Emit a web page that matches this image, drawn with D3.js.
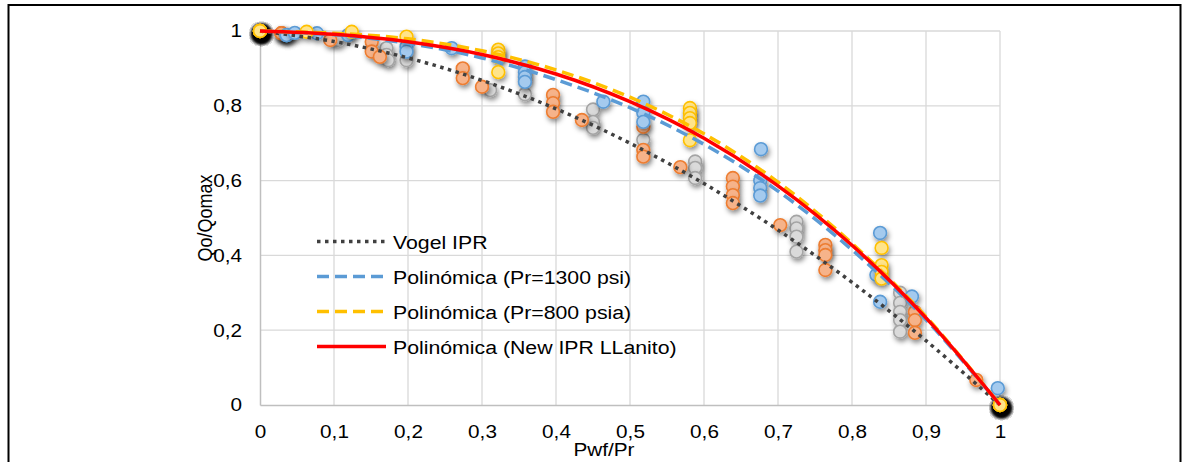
<!DOCTYPE html>
<html>
<head>
<meta charset="utf-8">
<script src="https://cdn.jsdelivr.net/npm/d3@7"></script>
<style>
  body { margin: 0; background: #fff; }
  text { font-family: "Liberation Sans", Arial, sans-serif; fill: #000; }
</style>
</head>
<body>
<svg id="chart" width="1183" height="462"></svg>
<script>
// Axis ticks and labels (decimal comma)
const xTicks = [0, 0.1, 0.2, 0.3, 0.4, 0.5, 0.6, 0.7, 0.8, 0.9, 1];
const xTickLabels = ["0", "0,1", "0,2", "0,3", "0,4", "0,5", "0,6", "0,7", "0,8", "0,9", "1"];
const yTicks = [0, 0.2, 0.4, 0.6, 0.8, 1];
const yTickLabels = ["0", "0,2", "0,4", "0,6", "0,8", "1"];

// Measured points, Pwf/Pr vs Qo/Qomax, one pair of arrays per data set
// (repeated values are tests that landed on the same point)
const blueX = [0, 0, 0, 0, 0, 0, 0, 0, 0.036, 0.036, 0.036, 0.047, 0.077, 0.119, 0.198, 0.198, 0.259, 0.358, 0.358, 0.358, 0.358, 0.464, 0.518, 0.518, 0.518, 0.677, 0.676, 0.676, 0.676, 0.838, 0.833, 0.838, 0.881, 0.997, 1, 1, 1, 1, 1, 1, 1, 1];
const blueY = [1, 1, 1, 1, 1, 1, 1, 1, 0.989, 0.989, 0.989, 0.995, 0.994, 0.989, 0.958, 0.945, 0.954, 0.905, 0.89, 0.877, 0.864, 0.811, 0.811, 0.781, 0.757, 0.684, 0.6, 0.58, 0.56, 0.46, 0.348, 0.276, 0.29, 0.045, 0, 0, 0, 0, 0, 0, 0, 0];

const orangeX = [0, 0, 0, 0, 0, 0, 0, 0, 0.029, 0.029, 0.029, 0.095, 0.151, 0.151, 0.162, 0.274, 0.274, 0.3, 0.396, 0.396, 0.396, 0.435, 0.518, 0.518, 0.518, 0.568, 0.639, 0.639, 0.639, 0.639, 0.703, 0.764, 0.764, 0.764, 0.764, 0.885, 0.885, 0.885, 0.968, 1, 1, 1, 1, 1, 1, 1, 1];
const orangeY = [1, 1, 1, 1, 1, 1, 1, 1, 0.994, 0.994, 0.994, 0.976, 0.971, 0.945, 0.931, 0.9, 0.874, 0.851, 0.829, 0.807, 0.784, 0.762, 0.744, 0.682, 0.664, 0.636, 0.607, 0.584, 0.561, 0.54, 0.481, 0.428, 0.414, 0.401, 0.361, 0.249, 0.227, 0.193, 0.067, 0, 0, 0, 0, 0, 0, 0, 0];

const grayX = [0, 0, 0, 0, 0, 0, 0, 0, 0.105, 0.171, 0.171, 0.173, 0.198, 0.311, 0.358, 0.45, 0.45, 0.45, 0.518, 0.588, 0.588, 0.588, 0.725, 0.725, 0.725, 0.725, 0.865, 0.865, 0.865, 0.865, 0.865, 1, 1, 1, 1, 1, 1, 1, 1];
const grayY = [1, 1, 1, 1, 1, 1, 1, 1, 0.976, 0.954, 0.936, 0.922, 0.922, 0.842, 0.831, 0.79, 0.757, 0.741, 0.709, 0.651, 0.634, 0.607, 0.49, 0.472, 0.45, 0.41, 0.3, 0.273, 0.249, 0.227, 0.196, 0, 0, 0, 0, 0, 0, 0, 0];

const yellowX = [0, 0, 0, 0, 0, 0, 0, 0, 0.063, 0.124, 0.198, 0.322, 0.322, 0.322, 0.322, 0.581, 0.581, 0.581, 0.581, 0.581, 0.84, 0.84, 0.84, 0.84, 1, 1, 1, 1, 1, 1, 1, 1];
const yellowY = [1, 1, 1, 1, 1, 1, 1, 1, 0.998, 0.998, 0.985, 0.95, 0.94, 0.93, 0.89, 0.794, 0.781, 0.767, 0.754, 0.708, 0.42, 0.374, 0.356, 0.338, 0, 0, 0, 0, 0, 0, 0, 0];

// Curves sampled along Pwf/Pr
const curveX = [0, 0.1, 0.2, 0.3, 0.4, 0.5, 0.6, 0.7, 0.8, 0.9, 1];
const vogelY = [1, 0.972, 0.928, 0.868, 0.792, 0.7, 0.592, 0.468, 0.328, 0.172, 0];
const poly1300Y = [1, 0.99, 0.967, 0.928, 0.87, 0.795, 0.697, 0.572, 0.415, 0.228, 0];
const poly800Y = [1, 0.994, 0.979, 0.947, 0.896, 0.823, 0.725, 0.596, 0.432, 0.236, 0];
const llanitoY = [1, 0.991, 0.971, 0.937, 0.885, 0.811, 0.713, 0.586, 0.427, 0.233, 0];

const legendLabels = ["Vogel IPR", "Polinómica (Pr=1300 psi)", "Polinómica (Pr=800 psia)", "Polinómica (New IPR LLanito)"];

const svg = d3.select("#chart");
const x = d3.scaleLinear().domain([0, 1]).range([260, 1000]);
const y = d3.scaleLinear().domain([0, 1]).range([405, 31]);
const SX = 1.12; // horizontal widening of the lettering

// drop shadow for markers
const defs = svg.append("defs");
const f = defs.append("filter").attr("id", "shadow")
  .attr("x", "-120%").attr("y", "-120%").attr("width", "340%").attr("height", "340%");
f.append("feDropShadow").attr("dx", 1.5).attr("dy", 3).attr("stdDeviation", 2.8)
  .attr("flood-color", "#000").attr("flood-opacity", 0.45);

// outer frame
svg.append("rect").attr("x", 8.5).attr("y", 5).attr("width", 1172).attr("height", 470)
  .attr("fill", "none").attr("stroke", "#000").attr("stroke-width", 2);

// gridlines
const grid = svg.append("g");
grid.selectAll("line.v").data(xTicks.slice(1)).join("line")
  .attr("x1", d => x(d)).attr("x2", d => x(d)).attr("y1", y(1)).attr("y2", y(0))
  .attr("stroke", "#d9d9d9").attr("stroke-width", 1.3);
grid.selectAll("line.h").data(yTicks.slice(1)).join("line")
  .attr("x1", x(0)).attr("x2", x(1)).attr("y1", d => y(d)).attr("y2", d => y(d))
  .attr("stroke", "#d9d9d9").attr("stroke-width", 1.3);

// axes
const xAxis = svg.append("g").attr("transform", `translate(0,${y(0)})`)
  .call(d3.axisBottom(x).tickValues(xTicks).tickFormat((d, i) => xTickLabels[i]).tickSize(0).tickPadding(20));
const yAxis = svg.append("g").attr("transform", `translate(${x(0)},0)`)
  .call(d3.axisLeft(y).tickValues(yTicks).tickFormat((d, i) => yTickLabels[i]).tickSize(0).tickPadding(16));
[xAxis, yAxis].forEach(a => {
  a.select(".domain").attr("stroke", "#bfbfbf").attr("stroke-width", 1.5);
  a.selectAll("text").attr("font-size", 18.5).attr("font-family", "Liberation Sans, Arial, sans-serif")
    .attr("fill", "#000").attr("transform", `scale(${SX},1)`);
});

// markers
const sets = [
  { xs: grayX, ys: grayY, fill: "#dadada", stroke: "#a5a5a5" },
  { xs: orangeX, ys: orangeY, fill: "#f6b38a", stroke: "#ed7d31" },
  { xs: blueX, ys: blueY, fill: "#a4caee", stroke: "#5b9bd5" },
  { xs: yellowX, ys: yellowY, fill: "#ffe48a", stroke: "#ffc000" }
];
sets.forEach(s => {
  svg.append("g").selectAll("circle").data(s.xs.map((v, i) => [v, s.ys[i]])).join("circle")
    .attr("cx", d => x(d[0])).attr("cy", d => y(d[1])).attr("r", 6.4)
    .attr("fill", s.fill).attr("stroke", s.stroke).attr("stroke-width", 1.6)
    .attr("filter", "url(#shadow)");
});

// fitted curves
const styles = [
  { ys: vogelY, color: "#404040", width: 3.5, dash: "3.5,4.5" },
  { ys: poly1300Y, color: "#5b9bd5", width: 3.5, dash: "12,6" },
  { ys: poly800Y, color: "#ffc000", width: 3.5, dash: "12,6" },
  { ys: llanitoY, color: "#ff0000", width: 3.5, dash: null }
];
const line = d3.line().x(d => x(d[0])).y(d => y(d[1])).curve(d3.curveCatmullRom);
styles.forEach(s => {
  svg.append("path").datum(curveX.map((v, i) => [v, s.ys[i]]))
    .attr("d", line).attr("fill", "none").attr("stroke", s.color)
    .attr("stroke-width", s.width).attr("stroke-dasharray", s.dash);
});

// legend
const leg = svg.append("g");
styles.forEach((s, i) => {
  const ly = 241.5 + i * 35;
  leg.append("line").attr("x1", 317).attr("x2", 386).attr("y1", ly).attr("y2", ly)
    .attr("stroke", s.color).attr("stroke-width", s.width).attr("stroke-dasharray", s.dash);
  leg.append("text").attr("transform", `translate(393,${ly + 7}) scale(${SX},1)`)
    .attr("font-size", 19).text(legendLabels[i]);
});

// axis titles
svg.append("text").attr("transform", `translate(604,456) scale(${SX},1)`)
  .attr("text-anchor", "middle").attr("font-size", 18.5).text("Pwf/Pr");
svg.append("text").attr("transform", `translate(212,218) scale(${SX},1) rotate(-90)`)
  .attr("text-anchor", "middle").attr("font-size", 18).text("Qo/Qomax");
</script>
</body>
</html>
